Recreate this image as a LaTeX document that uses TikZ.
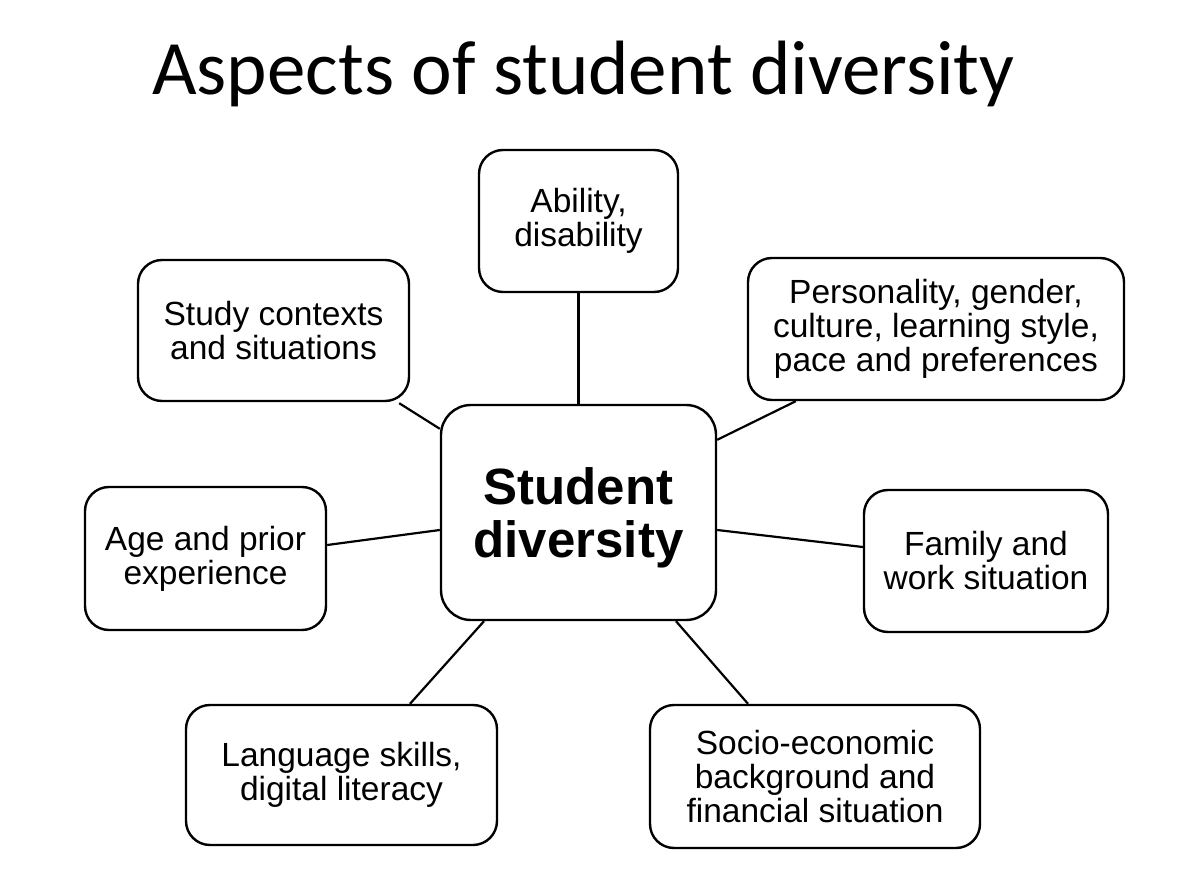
\documentclass[tikz,border=0pt]{standalone}
\usepackage{fontspec}
\setmainfont{Liberation Sans}
\newfontfamily\titlefont{Carlito}
\usetikzlibrary{calc}
\begin{document}
\begin{tikzpicture}[x=1pt,y=-1pt,
  aspect/.style={draw=black,line width=2.4pt,fill=white,rounded corners=24pt,
    align=center,inner sep=0pt,font=\fontsize{33.5}{34}\selectfont},
  link/.style={draw=black,line width=2.2pt}]
\useasboundingbox[fill=white] (0,0) rectangle (1200,890);
\node[anchor=base,font=\titlefont\fontsize{77}{80}\selectfont] (title) at (583.5,95) {Aspects of student diversity};
\node[aspect,rounded corners=30pt,minimum width=275pt,minimum height=215pt,
  font=\bfseries\fontsize{51}{53}\selectfont,text depth=0pt] (ctr) at (578.5,512.5) {Student\\diversity};
\node[aspect,minimum width=199pt,minimum height=142pt] (abil) at (578.5,221) {Ability,\\disability};
\node[aspect,minimum width=271pt,minimum height=141pt] (stud) at (273.5,330.5) {Study contexts\\and situations};
\node[aspect,minimum width=376pt,minimum height=142pt] (pers) at (936,329) {Personality, gender,\\culture, learning style,\\pace and preferences};
\node[aspect,minimum width=241pt,minimum height=143pt] (age) at (205.5,558.5) {Age and prior\\experience};
\node[aspect,minimum width=244pt,minimum height=142pt] (fam) at (986,561) {Family and\\work situation};
\node[aspect,minimum width=311pt,minimum height=140pt] (lang) at (341.5,775) {Language skills,\\digital literacy};
\node[aspect,minimum width=330pt,minimum height=143pt] (soc) at (815,776.5) {Socio-economic\\background and\\financial situation};
\draw[link] (abil.south) -- (ctr.north);
\draw[link] ([shift={(-11,1)}]stud.south east) -- ([shift={(0,25)}]ctr.north west);
\draw[link] ([shift={(49,0)}]pers.south west) -- ([shift={(0,36)}]ctr.north east);
\draw[link] ([shift={(0,-13.5)}]age.east) -- ([shift={(0,17.5)}]ctr.west);
\draw[link] ([shift={(0,17.5)}]ctr.east) -- ([shift={(0,-14)}]fam.west);
\draw[link] ([shift={(68.5,0)}]lang.north) -- ([shift={(-94.5,0)}]ctr.south);
\draw[link] ([shift={(-67,0)}]soc.north) -- ([shift={(97.5,0)}]ctr.south);
\end{tikzpicture}
\end{document}
